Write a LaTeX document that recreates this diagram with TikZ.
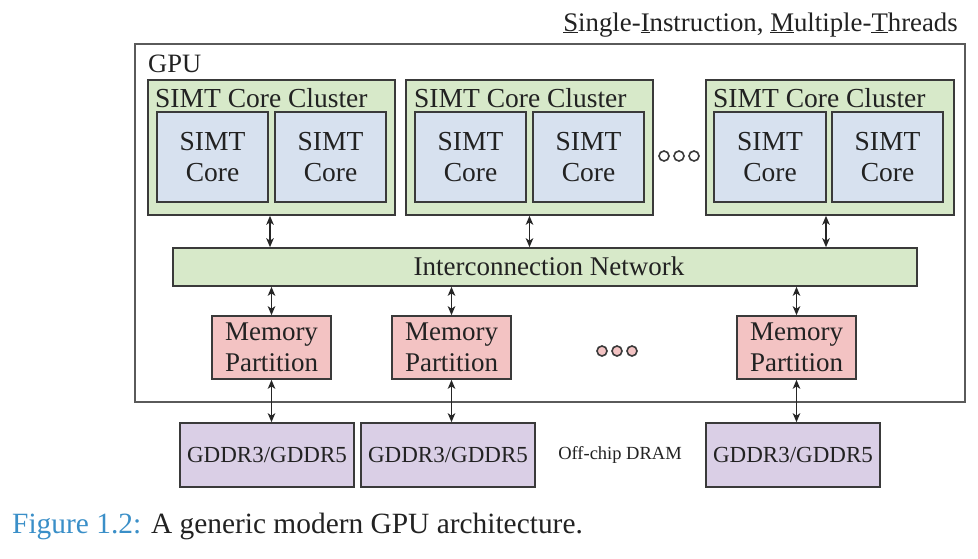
\documentclass[tikz,border=0pt]{standalone}
\usepackage{fontspec}
\setmainfont{Liberation Serif}
\usetikzlibrary{arrows.meta}
\definecolor{clgreen}{HTML}{D7E9C9}
\definecolor{coreblue}{HTML}{D7E1EF}
\definecolor{mempink}{HTML}{F3C3C3}
\definecolor{gddrlav}{HTML}{DACFE6}
\definecolor{linecol}{HTML}{3A3A3A}
\definecolor{outercol}{HTML}{5A5A5A}
\definecolor{txtcol}{HTML}{222222}
\definecolor{capblue}{HTML}{3A8FC8}
\newcommand{\myul}[1]{\underline{#1}}
\begin{document}
\begin{tikzpicture}[x=1pt,y=-1pt,
  bx/.style={draw=linecol, line width=1.6pt, inner sep=0pt, outer sep=0pt, anchor=north west, text=txtcol},
  outerbox/.style={draw=outercol, line width=1.6pt, inner sep=0pt, outer sep=0pt, anchor=north west},
  clusterbox/.style={bx, fill=clgreen},
  corebox/.style={bx, fill=coreblue, minimum height=90pt, align=center, font=\fontsize{27.5}{31}\selectfont},
  netbox/.style={bx, fill=clgreen, font=\fontsize{27}{30}\selectfont},
  membox/.style={bx, fill=mempink, minimum width=119pt, minimum height=63pt, align=center, font=\fontsize{27}{31}\selectfont},
  gddrbox/.style={bx, fill=gddrlav, minimum width=174pt, minimum height=64pt, font=\fontsize{23}{26}\selectfont},
  lbl/.style={inner sep=0pt, text=txtcol, font=\fontsize{27.5}{31}\selectfont},
  arr/.style={{Stealth[length=9pt,width=7.5pt,inset=2.5pt]}-{Stealth[length=9pt,width=7.5pt,inset=2.5pt]}, line width=1.7pt, draw=black!85, shorten <=0.8pt, shorten >=0.8pt},
  dotc/.style={circle, draw=linecol, line width=1.6pt, minimum size=10pt, inner sep=0pt}
]
\useasboundingbox (0,0) rectangle (978,558);
\fill[white] (0,0) rectangle (978,558);

% title
\node[lbl, anchor=base east, font=\fontsize{26.8}{30}\selectfont] (title) at (958,31)
  {\myul{S}ingle-\myul{I}nstruction, \myul{M}ultiple-\myul{T}hreads};

% GPU box
\node[outerbox, minimum width=830pt, minimum height=358pt] (gpu) at (135,44) {};
\node[lbl, anchor=base west, font=\fontsize{26.5}{30}\selectfont] (gpulbl) at (148,72) {GPU};

% clusters
\node[clusterbox, minimum width=247pt, minimum height=135pt] (c1) at (148,80) {};
\node[clusterbox, minimum width=247pt, minimum height=135pt] (c2) at (406,80) {};
\node[clusterbox, minimum width=248pt, minimum height=135pt] (c3) at (706,80) {};
\node[lbl, anchor=base west] (c1l) at (155,107) {SIMT Core Cluster};
\node[lbl, anchor=base west] (c2l) at (414,107) {SIMT Core Cluster};
\node[lbl, anchor=base west] (c3l) at (713,107) {SIMT Core Cluster};

% cores
\node[corebox, minimum width=111pt] (c1a) at (157,112) {SIMT\\Core};
\node[corebox, minimum width=111pt] (c1b) at (275,112) {SIMT\\Core};
\node[corebox, minimum width=111pt] (c2a) at (415,112) {SIMT\\Core};
\node[corebox, minimum width=111pt] (c2b) at (533,112) {SIMT\\Core};
\node[corebox, minimum width=112pt] (c3a) at (714,112) {SIMT\\Core};
\node[corebox, minimum width=111pt] (c3b) at (832,112) {SIMT\\Core};

% dots top
\node[dotc, fill=white] (dt1) at (664,156) {};
\node[dotc, fill=white] (dt2) at (679,156) {};
\node[dotc, fill=white] (dt3) at (694,156) {};

% interconnect
\node[netbox, minimum width=744pt, minimum height=38pt] (net) at (173,248) {};
\node[lbl, font=\fontsize{27}{30}\selectfont] (netl) at (549,266) {Interconnection Network};

% memory partitions
\node[membox] (m1) at (212,316) {Memory\\Partition};
\node[membox] (m2) at (392,316) {Memory\\Partition};
\node[membox] (m3) at (737,316) {Memory\\Partition};

% dots bottom
\node[dotc, fill=mempink] (db1) at (602,351) {};
\node[dotc, fill=mempink] (db2) at (617,351) {};
\node[dotc, fill=mempink] (db3) at (632,351) {};

% GDDR
\node[gddrbox] (g1) at (180,423) {GDDR3/GDDR5};
\node[gddrbox] (g2) at (361,423) {GDDR3/GDDR5};
\node[gddrbox] (g3) at (706,423) {GDDR3/GDDR5};
\node[lbl, font=\fontsize{18.5}{22}\selectfont] (offchip) at (620,455) {Off-chip DRAM};

% arrows
\draw[arr] ([xshift=-1.5pt]c1.south) -- ([xshift=-1.5pt]c1.south |- net.north);
\draw[arr] (c2.south) -- (c2.south |- net.north);
\draw[arr] ([xshift=-4pt]c3.south) -- ([xshift=-4pt]c3.south |- net.north);
\draw[arr] (m1.north) -- (m1.north |- net.south);
\draw[arr] (m2.north) -- (m2.north |- net.south);
\draw[arr] (m3.north) -- (m3.north |- net.south);
\draw[arr] (m1.south) -- (m1.south |- g1.north);
\draw[arr] (m2.south) -- (m2.south |- g2.north);
\draw[arr] (m3.south) -- (m3.south |- g3.north);

% caption
\node[lbl, anchor=base west, font=\fontsize{29.4}{32}\selectfont] (cap) at (12,533)
  {\textcolor{capblue}{Figure 1.2:} A generic modern GPU architecture.};
\end{tikzpicture}
\end{document}
